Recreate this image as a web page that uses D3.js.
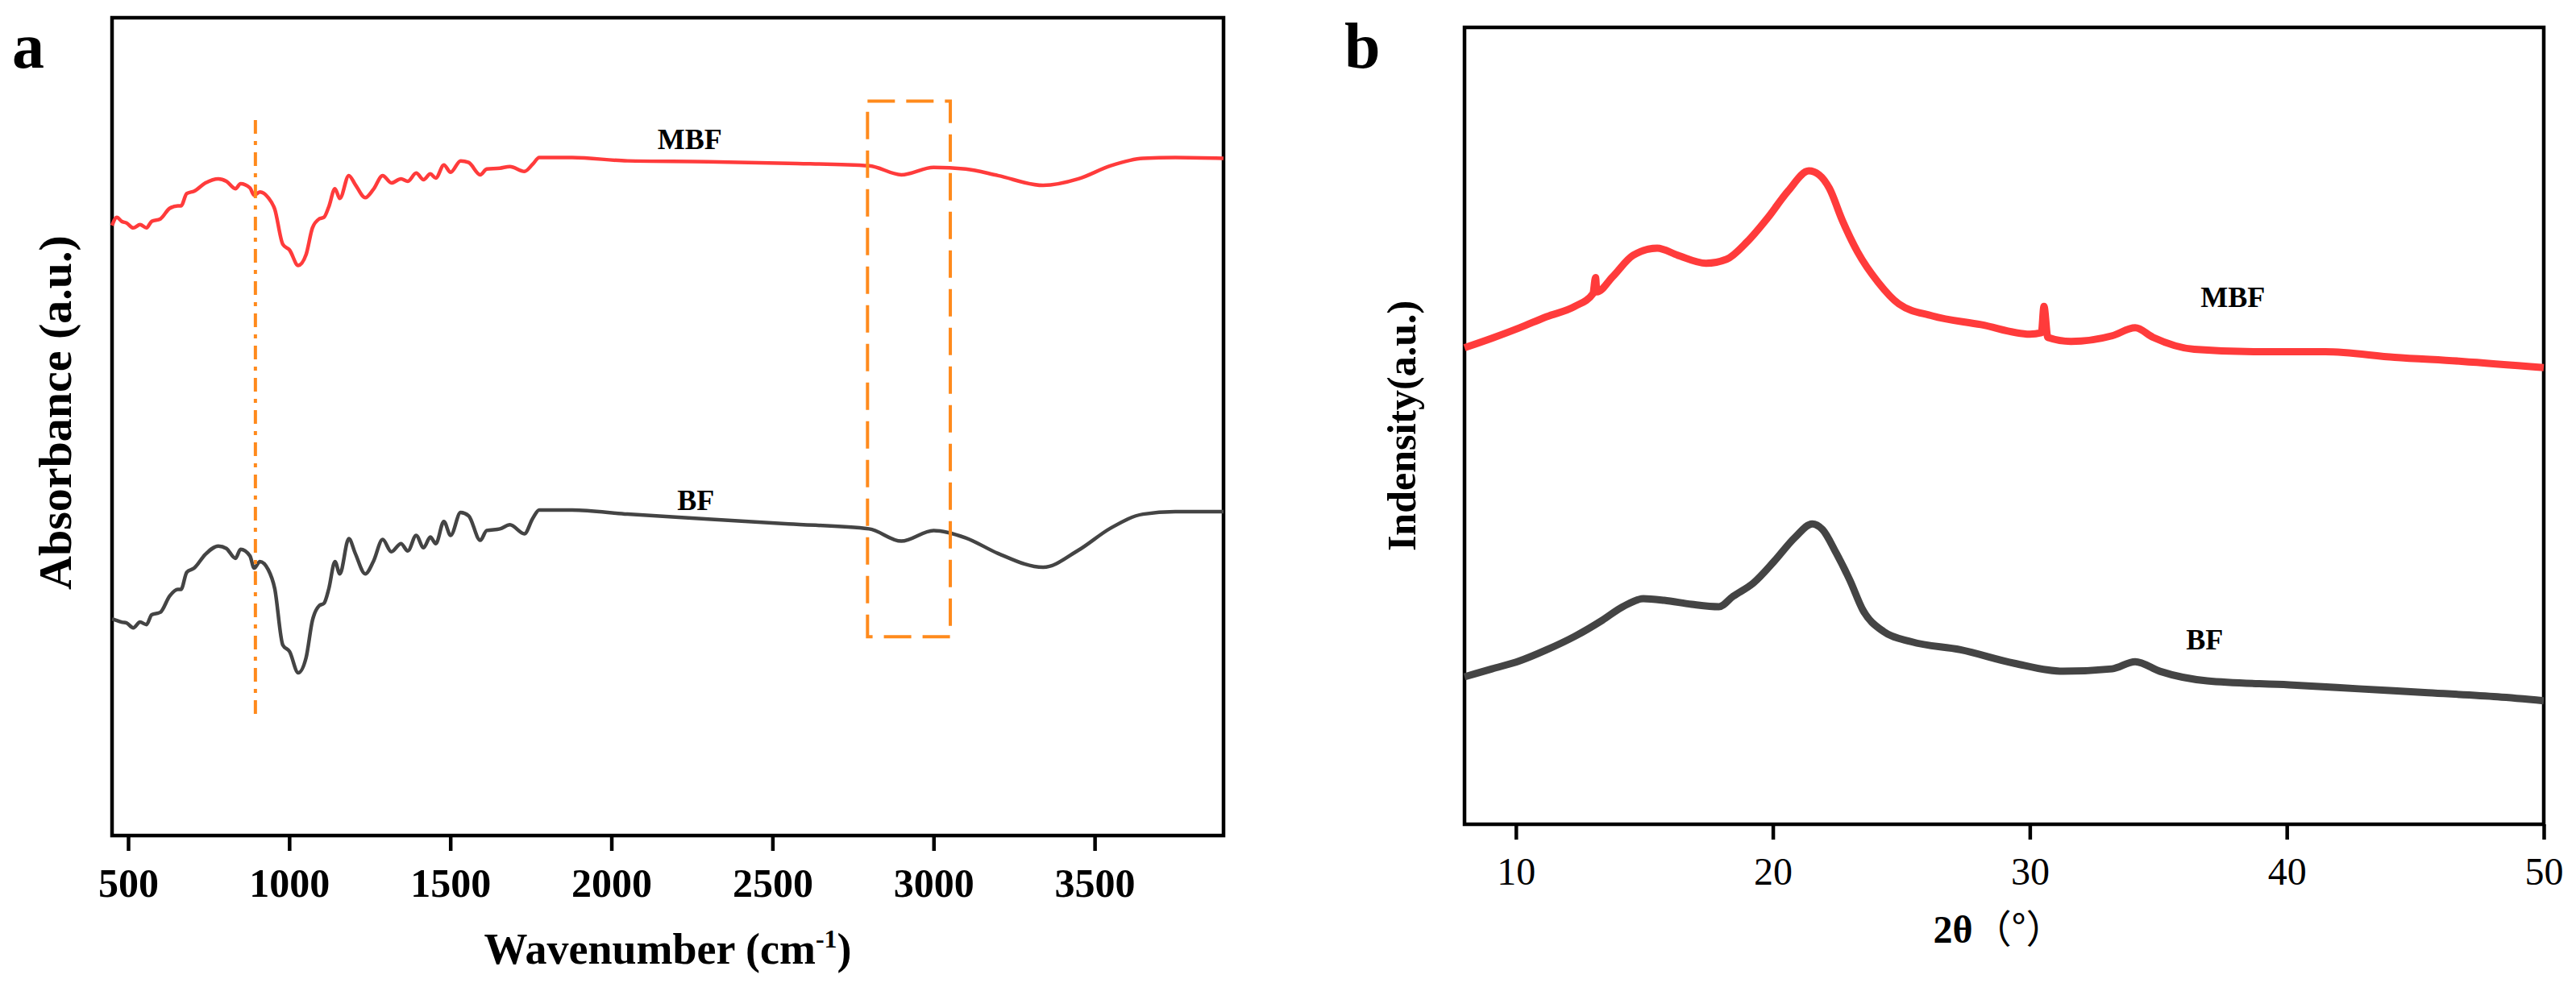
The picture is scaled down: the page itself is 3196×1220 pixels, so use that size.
<!DOCTYPE html>
<html>
<head>
<meta charset="utf-8">
<script src="https://cdn.jsdelivr.net/npm/d3@7/dist/d3.min.js"></script>
<style>
  html, body { margin: 0; padding: 0; background: #fff; }
  svg { display: block; }
</style>
</head>
<body>
<svg id="chart" width="3196" height="1220"></svg>
<script>
// ---------------- Panel a : FTIR ----------------
const ftirWave = [450,465,480,495,516,537,557,573,600,629,654,664,682,705,740,780,805,833,849,878,891,909,935,955,980,1001,1028,1052,1072,1093,1108,1123,1142,1157,1185,1205,1236,1261,1290,1317,1347,1368,1394,1417,1438,1455,1480,1501,1532,1557,1593,1613,1654,1685,1730,1756,1776,1878,2050,2300,2550,2800,2900,3000,3100,3200,3340,3450,3550,3650,3750,3900];
const ftirBF = [26.5,26.3,26.1,26.0,25.4,26.1,25.8,27.0,27.3,29.3,30.1,30.1,32.2,32.7,34.4,35.4,35.1,33.9,35.0,34.2,32.7,33.5,32.5,30.2,23.3,22.5,19.9,21.7,26.3,28.1,28.4,30.2,33.5,32.0,36.3,34.5,32.0,33.5,36.2,34.7,35.7,34.8,36.7,35.2,36.5,35.7,38.4,36.7,39.5,39.1,36.1,37.3,37.5,38.0,36.9,38.8,39.8,39.8,39.3,38.7,38.1,37.5,36.0,37.3,36.4,34.5,32.8,34.9,37.6,39.3,39.6,39.6];
const ftirMBF = [74.6,75.6,75.1,74.9,74.3,74.7,74.3,75.1,75.4,76.7,77.0,77.0,78.5,78.8,79.8,80.3,80.0,79.1,79.7,79.2,78.3,78.7,78.0,76.6,72.3,71.6,69.7,71.0,74.3,75.4,75.6,76.9,79.1,77.9,80.7,79.6,78.0,79.0,80.7,79.8,80.3,80.0,81.0,80.2,80.9,80.4,82.0,81.1,82.5,82.3,80.8,81.5,81.6,81.8,81.2,82.1,82.9,82.9,82.5,82.4,82.2,81.9,80.8,81.7,81.5,80.7,79.5,80.3,81.9,82.8,82.9,82.8];
const ftirTicks = [500,1000,1500,2000,2500,3000,3500];
const ftirDomain = [450, 3900];
const ftirMarkLine = {wave: 895, from: 14.8, to: 87.5};
const ftirBox = {wave0: 2795, wave1: 3052, low: 24.3, high: 89.8};
const ftirLabels = [{text:"MBF", wave:2243, v:83.9}, {text:"BF", wave:2262, v:39.8}];

// ---------------- Panel b : XRD ----------------
const xrdAngleMBF = [8.0,9.07,10.14,11.2,12.3,13.0,13.1,13.15,13.76,14.56,15.5,16.3,17.4,18.2,19.0,19.8,20.6,21.4,21.8,22.2,22.7,23.3,24.1,24.9,26.2,28.1,30.0,30.45,30.55,30.7,31.6,33.2,34.1,34.8,36.4,38.8,41.5,44.2,46.8,50.0];
const xrdMBF = [59.8,61.0,62.3,63.7,65.0,66.6,68.6,66.8,68.7,71.4,72.3,71.4,70.4,70.9,73.1,76.1,79.5,82.0,81.5,79.8,75.8,71.8,68.0,65.3,63.8,62.7,61.5,61.7,65.0,61.1,60.6,61.3,62.3,61.1,59.6,59.3,59.3,58.6,58.1,57.3];
const xrdAngleBF = [8.0,9.07,10.14,11.2,12.3,13.36,14.16,14.96,15.77,16.84,17.9,18.45,19.25,20.05,20.86,21.53,21.93,22.47,23.0,23.5,24.3,25.4,27.3,29.4,31.3,33.2,34.1,35.06,36.9,40.1,42.8,45.5,48.2,50.0];
const xrdBF = [18.5,19.5,20.5,21.9,23.6,25.6,27.3,28.3,28.1,27.6,27.3,28.6,30.3,33.0,36.0,37.7,37.0,34.0,30.6,26.9,24.2,22.9,21.9,20.2,19.2,19.5,20.4,19.2,18.0,17.5,17.0,16.5,16.0,15.5];
const xrdTicks = [10,20,30,40,50];
const xrdDomain = [8, 50];
const xrdLabels = [{text:"MBF", angle:37.9, v:64.9}, {text:"BF", angle:36.8, v:21.9}];

const RED = "#ff3b3b", GRAY = "#444444", ORANGE = "#ff8a1c";
const SERIF = "'Liberation Serif','Times New Roman',serif";

const svg = d3.select("#chart");

function panel(cfg) {
  const g = svg.append("g");
  const x = d3.scaleLinear().domain(cfg.domain).range([cfg.left, cfg.right]);
  const y = d3.scaleLinear().domain([0, 100]).range([cfg.bottom, cfg.top]);

  const ax = g.append("g")
    .attr("transform", `translate(0,${cfg.bottom})`)
    .call(d3.axisBottom(x).tickValues(cfg.ticks).tickSize(19).tickPadding(cfg.pad).tickFormat(d3.format("d")));
  ax.select(".domain").remove();
  ax.selectAll(".tick line").attr("stroke", "#000").attr("stroke-width", 4.5);
  ax.selectAll(".tick text")
    .attr("font-family", SERIF)
    .attr("font-size", cfg.tickSize)
    .attr("font-weight", cfg.tickWeight)
    .attr("fill", "#000");

  g.append("rect")
    .attr("x", x(cfg.domain[0])).attr("y", y(100))
    .attr("width", x(cfg.domain[1]) - x(cfg.domain[0]))
    .attr("height", y(0) - y(100))
    .attr("fill", "none").attr("stroke", "#000").attr("stroke-width", 4.5);

  return {g, x, y};
}

// Panel a
const A = panel({domain: ftirDomain, left: 139, right: 1518, top: 22, bottom: 1037,
  ticks: ftirTicks, pad: 21, tickSize: 50, tickWeight: "bold"});

const lineA = d3.line().x(d => A.x(d[0])).y(d => A.y(d[1])).curve(d3.curveMonotoneX);
A.g.append("path").datum(ftirWave.map((w, i) => [w, ftirMBF[i]]))
  .attr("d", lineA).attr("fill", "none").attr("stroke", RED).attr("stroke-width", 4.5).attr("stroke-linejoin", "round");
A.g.append("path").datum(ftirWave.map((w, i) => [w, ftirBF[i]]))
  .attr("d", lineA).attr("fill", "none").attr("stroke", GRAY).attr("stroke-width", 4.5).attr("stroke-linejoin", "round");

A.g.append("line")
  .attr("x1", A.x(ftirMarkLine.wave)).attr("x2", A.x(ftirMarkLine.wave))
  .attr("y1", A.y(ftirMarkLine.to)).attr("y2", A.y(ftirMarkLine.from))
  .attr("stroke", ORANGE).attr("stroke-width", 4).attr("stroke-dasharray", "17,9,5,9");

A.g.append("rect")
  .attr("x", A.x(ftirBox.wave0)).attr("y", A.y(ftirBox.high))
  .attr("width", A.x(ftirBox.wave1) - A.x(ftirBox.wave0))
  .attr("height", A.y(ftirBox.low) - A.y(ftirBox.high))
  .attr("fill", "none").attr("stroke", ORANGE).attr("stroke-width", 4).attr("stroke-dasharray", "34,14");

A.g.selectAll(".slabel").data(ftirLabels).enter().append("text")
  .attr("x", d => A.x(d.wave)).attr("y", d => A.y(d.v))
  .attr("text-anchor", "middle").attr("font-family", SERIF).attr("font-weight", "bold")
  .attr("font-size", 36).text(d => d.text);

const xtA = A.g.append("text")
  .attr("x", (139 + 1518) / 2).attr("y", 1196)
  .attr("text-anchor", "middle").attr("font-family", SERIF).attr("font-weight", "bold").attr("font-size", 54);
xtA.append("tspan").text("Wavenumber (cm");
xtA.append("tspan").attr("dy", -20).attr("font-size", 32).text("-1");
xtA.append("tspan").attr("dy", 20).text(")");

A.g.append("text")
  .attr("transform", `translate(88,512) rotate(-90)`)
  .attr("text-anchor", "middle").attr("font-family", SERIF).attr("font-weight", "bold").attr("font-size", 58)
  .text("Absorbance (a.u.)");

svg.append("text").attr("x", 15).attr("y", 84)
  .attr("font-family", SERIF).attr("font-weight", "bold").attr("font-size", 80).text("a");

// Panel b
const B = panel({domain: xrdDomain, left: 1817, right: 3156, top: 34, bottom: 1023,
  ticks: xrdTicks, pad: 22, tickSize: 48, tickWeight: "normal"});

const lineB = d3.line().x(d => B.x(d[0])).y(d => B.y(d[1])).curve(d3.curveMonotoneX);
B.g.append("path").datum(xrdAngleMBF.map((a, i) => [a, xrdMBF[i]]))
  .attr("d", lineB).attr("fill", "none").attr("stroke", RED).attr("stroke-width", 9).attr("stroke-linejoin", "round");
B.g.append("path").datum(xrdAngleBF.map((a, i) => [a, xrdBF[i]]))
  .attr("d", lineB).attr("fill", "none").attr("stroke", GRAY).attr("stroke-width", 9).attr("stroke-linejoin", "round");

B.g.selectAll(".slabel").data(xrdLabels).enter().append("text")
  .attr("x", d => B.x(d.angle)).attr("y", d => B.y(d.v))
  .attr("text-anchor", "middle").attr("font-family", SERIF).attr("font-weight", "bold")
  .attr("font-size", 36).text(d => d.text);

const xtB = B.g.append("text")
  .attr("x", 2480).attr("y", 1170)
  .attr("text-anchor", "middle").attr("font-family", SERIF).attr("font-size", 48);
xtB.append("tspan").attr("font-weight", "bold").text("2θ");
xtB.append("tspan").attr("font-family", "'Noto Sans CJK SC', serif").attr("font-size", 48).text("（°）");

B.g.append("text")
  .attr("transform", `translate(1756,${(34 + 1023) / 2}) rotate(-90)`)
  .attr("text-anchor", "middle").attr("font-family", SERIF).attr("font-weight", "bold").attr("font-size", 50)
  .text("Indensity(a.u.)");

svg.append("text").attr("x", 1668).attr("y", 84)
  .attr("font-family", SERIF).attr("font-weight", "bold").attr("font-size", 80).text("b");
</script>
</body>
</html>
